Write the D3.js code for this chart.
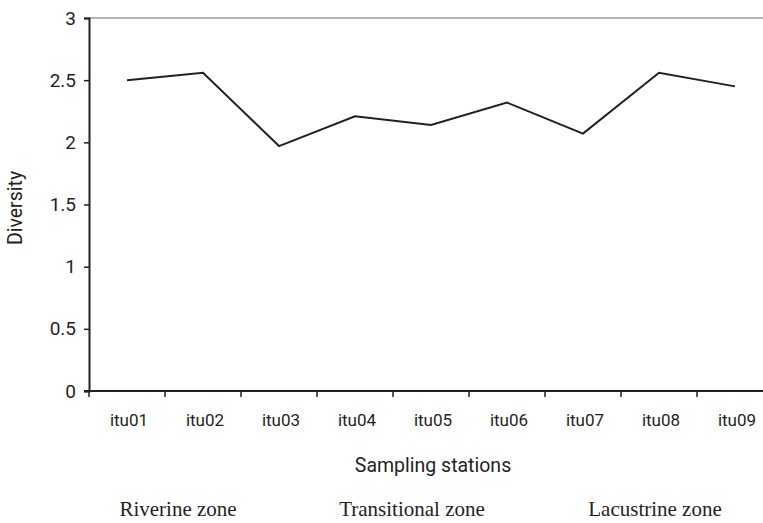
<!DOCTYPE html>
<html>
<head>
<meta charset="utf-8">
<script src="https://cdn.jsdelivr.net/npm/d3@7"></script>
<style>
  html, body { margin: 0; padding: 0; background: #fff; }
  svg { display: block; }
</style>
</head>
<body>
<svg id="chart" width="763" height="523"></svg>
<script>
const stations = ["itu01","itu02","itu03","itu04","itu05","itu06","itu07","itu08","itu09"];
const diversity = [2.50, 2.56, 1.97, 2.21, 2.14, 2.32, 2.07, 2.56, 2.45];
const yTicks = [0, 0.5, 1, 1.5, 2, 2.5, 3];
const zones = ["Riverine zone", "Transitional zone", "Lacustrine zone"];
const zoneCenters = [178, 412, 655];

(function () {
const svg = d3.select("#chart");
const mLeft = 89, mTop = 18, mBottom = 391, bandW = 76;
const ink = "#231f20";

const x = d3.scaleBand().domain(stations).range([mLeft, mLeft + bandW * stations.length]).padding(0);
const y = d3.scaleLinear().domain([0, 3]).range([mBottom, mTop]);

const sans = "Roboto, 'Noto Sans', sans-serif";
const serif = "'Liberation Serif', 'DejaVu Serif', serif";

// top gridline at max
svg.append("line")
  .attr("x1", mLeft).attr("x2", 763)
  .attr("y1", y(3)).attr("y2", y(3))
  .attr("stroke", "#9a9a9a").attr("stroke-width", 1.5);

// Y axis
const yAxis = d3.axisLeft(y).tickValues(yTicks).tickFormat(d => String(d)).tickSize(5).tickPadding(8);
const gy = svg.append("g").attr("transform", `translate(${mLeft},0)`).call(yAxis);
gy.select(".domain").attr("stroke", ink).attr("stroke-width", 2);
gy.selectAll(".tick line").attr("stroke", ink).attr("stroke-width", 1.5);
gy.selectAll(".tick text").attr("font-family", sans).attr("font-size", 19).attr("fill", ink);

// X axis line
svg.append("line")
  .attr("x1", mLeft - 5).attr("x2", 763)
  .attr("y1", mBottom).attr("y2", mBottom)
  .attr("stroke", ink).attr("stroke-width", 2);

// X ticks at band boundaries
svg.selectAll(".xtick").data(stations).join("line")
  .attr("class", "xtick")
  .attr("x1", d => x(d)).attr("x2", d => x(d))
  .attr("y1", mBottom).attr("y2", mBottom + 6)
  .attr("stroke", ink).attr("stroke-width", 1.5);

// X labels
svg.selectAll(".xlab").data(stations).join("text")
  .attr("class", "xlab")
  .attr("x", d => x(d) + x.bandwidth() / 2 + 2)
  .attr("y", 425.5)
  .attr("text-anchor", "middle")
  .attr("font-family", sans).attr("font-size", 17).attr("fill", ink)
  .text(d => d);

// Line
const line = d3.line().x((d, i) => x(stations[i]) + x.bandwidth() / 2).y(d => y(d));
svg.append("path")
  .datum(diversity)
  .attr("d", line)
  .attr("fill", "none")
  .attr("stroke", ink).attr("stroke-width", 2);

// Axis titles
svg.append("text")
  .attr("transform", "translate(22,208) rotate(-90)")
  .attr("text-anchor", "middle")
  .attr("font-family", sans).attr("font-size", 19.5).attr("fill", ink)
  .text("Diversity");

svg.append("text")
  .attr("x", 433).attr("y", 472)
  .attr("text-anchor", "middle")
  .attr("font-family", sans).attr("font-size", 19.5).attr("fill", ink)
  .text("Sampling stations");

// Zone labels
svg.selectAll(".zone").data(zones).join("text")
  .attr("class", "zone")
  .attr("x", (d, i) => zoneCenters[i])
  .attr("y", 516)
  .attr("text-anchor", "middle")
  .attr("font-family", serif).attr("font-size", 21).attr("fill", ink)
  .text(d => d);
})();
</script>
</body>
</html>
